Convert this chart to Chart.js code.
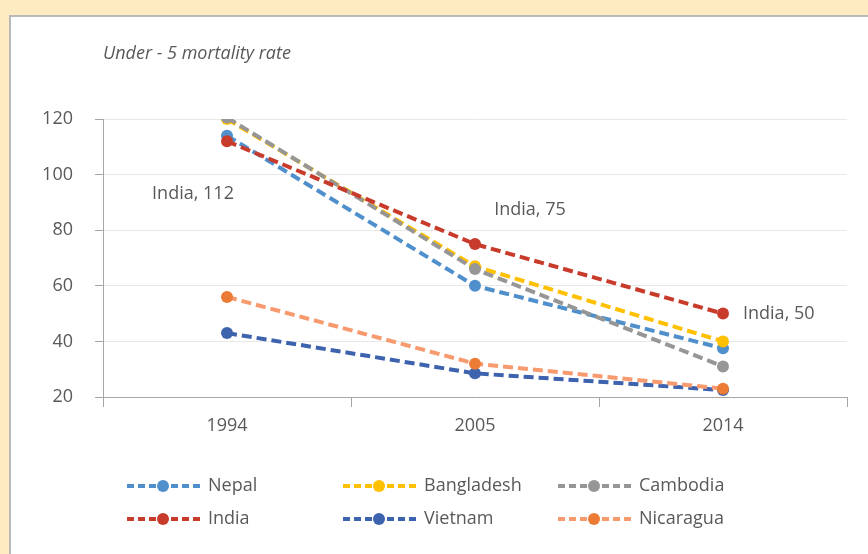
<!DOCTYPE html>
<html>
<head>
<meta charset="utf-8">
<script src="https://cdn.jsdelivr.net/npm/chart.js@4.4.1/dist/chart.umd.min.js"></script>
<style>
  html, body { margin: 0; padding: 0; }
  body { width: 868px; height: 554px; background: #FFEBC1; position: relative; overflow: hidden; }
  #panel { position: absolute; left: 9px; top: 15px; right: 0; bottom: 0; background: #fff;
           border-left: 2px solid #B9B9B9; border-top: 2px solid #B9B9B9; }
  #chart { position: absolute; left: 0; top: 0; }
</style>
</head>
<body>
<div id="panel"></div>
<canvas id="chart" width="868" height="554"></canvas>
<script>
// data
const years = ['1994', '2005', '2014'];
const nepal = [114, 60, 37.5];
const bangladesh = [120, 67, 40];
const cambodia = [120.5, 66, 31];
const india = [112, 75, 50];
const vietnam = [43, 28.5, 22.5];
const nicaragua = [56, 32, 23];
const yTicks = [20, 40, 60, 80, 100, 120];

const FONT = "'Open Sans', 'Noto Sans', sans-serif";
const TEXT = '#595959';
const AXIS = '#A6A6A6';

const series = [
  { label: 'Nepal', data: nepal, line: '#4F8FCC', dot: '#4F8FCC' },
  { label: 'Bangladesh', data: bangladesh, line: '#FFC000', dot: '#FFC000' },
  { label: 'Cambodia', data: cambodia, line: '#969696', dot: '#969696' },
  { label: 'India', data: india, line: '#C83B2B', dot: '#C83B2B' },
  { label: 'Vietnam', data: vietnam, line: '#3D62AE', dot: '#3D62AE' },
  { label: 'Nicaragua', data: nicaragua, line: '#F79A6E', dot: '#EC7B35' }
];

// title, data labels and the two-row legend
const extras = {
  id: 'extras',
  afterDatasetsDraw(chart) {
    const c = chart.ctx;
    const xs = chart.scales.x, ys = chart.scales.y;
    c.save();
    c.fillStyle = TEXT;
    c.textBaseline = 'middle';

    c.font = 'italic 18px ' + FONT;
    c.textAlign = 'left';
    c.fillText('Under - 5 mortality rate', 103, 54);

    // India labels
    c.font = '18px ' + FONT;
    const lab = (i, dx, dy, align) => {
      c.textAlign = align;
      c.fillText('India, ' + india[i], xs.getPixelForValue(i) + dx, ys.getPixelForValue(india[i]) + dy);
    };
    lab(0, -34, 53, 'center');
    lab(1, 55, -34, 'center');
    lab(2, 20, 0, 'left');

    // legend
    const colX = [127, 343, 558];
    const rowY = [486, 519];
    series.forEach((s, i) => {
      const x = colX[i % 3], y = rowY[Math.floor(i / 3)];
      c.strokeStyle = s.line;
      c.lineWidth = 4;
      c.setLineDash([7, 4]);
      c.beginPath();
      c.moveTo(x, y);
      c.lineTo(x + 73, y);
      c.stroke();
      c.setLineDash([]);
      c.fillStyle = s.dot;
      c.beginPath();
      c.arc(x + 36, y, 6, 0, Math.PI * 2);
      c.fill();
      c.fillStyle = TEXT;
      c.textAlign = 'left';
      c.fillText(s.label, x + 81, y);
    });
    c.restore();
  }
};

const ctx = document.getElementById('chart').getContext('2d');
new Chart(ctx, {
  type: 'line',
  data: {
    labels: years,
    datasets: series.map((s, i) => ({
      label: s.label,
      data: s.data,
      borderColor: s.line,
      backgroundColor: s.dot,
      pointBackgroundColor: s.dot,
      pointBorderWidth: 0,
      pointRadius: 6,
      borderWidth: 4,
      borderDash: [10, 5],
      tension: 0,
      order: -i
    }))
  },
  options: {
    responsive: false,
    animation: false,
    layout: { padding: { left: 0, top: 119, right: 21, bottom: 0 } },
    plugins: { legend: { display: false }, tooltip: { enabled: false } },
    scales: {
      x: {
        offset: true,
        grid: { offset: true, drawOnChartArea: false, drawTicks: true, tickLength: 10, tickColor: AXIS },
        border: { color: AXIS, width: 1 },
        ticks: { font: { family: FONT, size: 18 }, color: TEXT, padding: 8 },
        afterFit(scale) { scale.height = 157; }
      },
      y: {
        min: 20,
        max: 120,
        afterBuildTicks(scale) { scale.ticks = yTicks.map(v => ({ value: v })); },
        grid: { color: '#E8E8E8', tickColor: AXIS, tickLength: 8 },
        border: { color: AXIS, width: 1 },
        ticks: { font: { family: FONT, size: 18 }, color: TEXT, padding: 22 },
        afterFit(scale) { scale.width = 103; }
      }
    }
  },
  plugins: [extras]
});
</script>
</body>
</html>
